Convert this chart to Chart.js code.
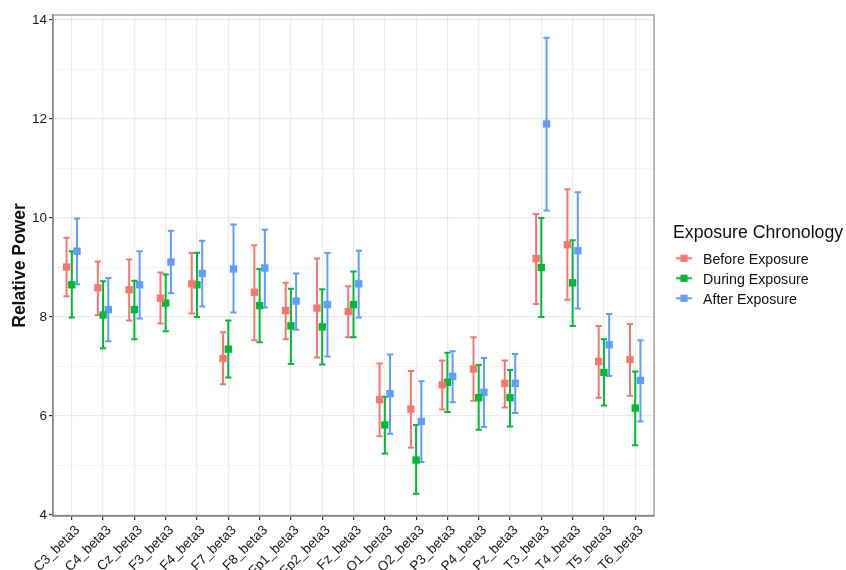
<!DOCTYPE html>
<html>
<head>
<meta charset="utf-8">
<script src="https://cdn.jsdelivr.net/npm/chart.js@4/dist/chart.umd.min.js"></script>
<style>
  html, body { margin: 0; padding: 0; background: #fff; }
  #wrap { width: 846px; height: 570px; }
</style>
</head>
<body>
<div id="wrap"><canvas id="chart" width="846" height="570"></canvas></div>
<script>
// ---- data ----
const categories = ['C3_beta3','C4_beta3','Cz_beta3','F3_beta3','F4_beta3','F7_beta3','F8_beta3','Fp1_beta3','Fp2_beta3','Fz_beta3',
  'O1_beta3','O2_beta3','P3_beta3','P4_beta3','Pz_beta3','T3_beta3','T4_beta3','T5_beta3','T6_beta3'];
const seriesNames = ['Before Exposure','During Exposure','After Exposure'];
const seriesColors = ['#F8766D','#00BA38','#619CFF'];

const beforeMean = [9.01,8.59,8.55,8.38,8.67,7.16,8.50,8.13,8.18,8.11,6.33,6.14,6.63,6.95,6.66,9.18,9.46,7.10,7.14];
const beforeLow  = [8.42,8.04,7.93,7.87,8.07,6.64,7.53,7.55,7.18,7.59,5.59,5.36,6.13,6.31,6.17,8.26,8.35,6.37,6.41];
const beforeHigh = [9.60,9.12,9.16,8.90,9.29,7.69,9.45,8.69,9.18,8.62,7.06,6.91,7.12,7.59,7.12,10.08,10.58,7.82,7.86];

const duringMean = [8.65,8.04,8.15,8.28,8.65,7.35,8.23,7.82,7.80,8.25,5.82,5.11,6.68,6.37,6.37,9.00,8.69,6.88,6.16];
const duringLow  = [7.99,7.37,7.55,7.71,8.00,6.78,7.49,7.05,7.04,7.59,5.24,4.43,6.08,5.72,5.79,8.00,7.82,6.21,5.41];
const duringHigh = [9.33,8.72,8.73,8.86,9.30,7.93,8.97,8.57,8.56,8.92,6.39,5.82,7.28,7.03,6.93,10.00,9.55,7.55,6.90];

const afterMean = [9.33,8.15,8.65,9.11,8.88,8.97,8.99,8.32,8.25,8.67,6.45,5.89,6.80,6.48,6.66,11.90,9.34,7.44,6.72];
const afterLow  = [8.66,7.51,7.97,8.48,8.21,8.09,8.19,7.74,7.20,7.99,5.64,5.07,6.28,5.78,6.06,10.15,8.17,6.81,5.89];
const afterHigh = [9.99,8.79,9.33,9.74,9.54,9.87,9.76,8.88,9.29,9.34,7.24,6.70,7.31,7.17,7.25,13.64,10.52,8.06,7.53];

const yTickLabels = [4,6,8,10,12,14];
const yMinorTicks = [5,7,9,11,13];

const means = [beforeMean, duringMean, afterMean];
const lows  = [beforeLow, duringLow, afterLow];
const highs = [beforeHigh, duringHigh, afterHigh];
const dodge = [-1/6, 0, 1/6];
const FONT = '"Liberation Sans", Arial, sans-serif';

const datasets = seriesNames.map((name, s) => ({
  label: name,
  data: categories.map((c, i) => ({ x: i + dodge[s], y: means[s][i], lo: lows[s][i], hi: highs[s][i] })),
  backgroundColor: seriesColors[s],
  borderColor: seriesColors[s],
  pointStyle: 'rect',
  pointRadius: 5.2,
  pointBorderWidth: 0,
  showLine: false
}));

// error bars under the squares
const errorBars = {
  id: 'errorBars',
  beforeDatasetsDraw(chart) {
    const { ctx, scales: { x, y } } = chart;
    chart.data.datasets.forEach(ds => {
      ctx.save();
      ctx.strokeStyle = ds.borderColor;
      ctx.lineWidth = 2;
      ds.data.forEach(p => {
        const px = x.getPixelForValue(p.x);
        const hw = x.getPixelForValue(p.x + 0.1) - px;
        const top = y.getPixelForValue(p.hi);
        const bot = y.getPixelForValue(p.lo);
        ctx.beginPath();
        ctx.moveTo(px, top); ctx.lineTo(px, bot);
        ctx.moveTo(px - hw, top); ctx.lineTo(px + hw, top);
        ctx.moveTo(px - hw, bot); ctx.lineTo(px + hw, bot);
        ctx.stroke();
      });
      ctx.restore();
    });
  }
};

// rotated category labels (ggplot hjust = 1 style), panel border, legend
const decorations = {
  id: 'decorations',
  afterDraw(chart) {
    const { ctx, chartArea: a, scales: { x } } = chart;
    ctx.save();
    ctx.strokeStyle = '#8c8c8c';
    ctx.lineWidth = 1.2;
    ctx.strokeRect(a.left, a.top, a.right - a.left, a.bottom - a.top);

    ctx.fillStyle = '#1a1a1a';
    ctx.font = '13.5px ' + FONT;
    ctx.textAlign = 'right';
    ctx.textBaseline = 'middle';
    categories.forEach((c, i) => {
      ctx.save();
      ctx.translate(x.getPixelForValue(i) + 6, a.bottom + 12);
      ctx.rotate(-Math.PI / 4);
      ctx.fillText(c, 0, 0);
      ctx.restore();
    });

    ctx.fillStyle = '#111';
    ctx.textBaseline = 'alphabetic';
    ctx.textAlign = 'left';
    ctx.font = '17.7px ' + FONT;
    ctx.fillText('Exposure Chronology', 673, 238);
    ctx.font = '14.2px ' + FONT;
    seriesNames.forEach((name, s) => {
      const ky = 258.3 + s * 20;
      ctx.strokeStyle = seriesColors[s];
      ctx.lineWidth = 2;
      ctx.beginPath(); ctx.moveTo(676, ky); ctx.lineTo(692, ky); ctx.stroke();
      ctx.fillStyle = seriesColors[s];
      ctx.fillRect(684 - 3.6, ky - 3.6, 7.2, 7.2);
      ctx.fillStyle = '#111';
      ctx.fillText(name, 703, ky + 6);
    });
    ctx.restore();
  }
};

new Chart(document.getElementById('chart'), {
  type: 'scatter',
  data: { datasets },
  plugins: [errorBars, decorations],
  options: {
    responsive: false,
    animation: false,
    layout: { padding: { left: 0, right: 192, top: 15, bottom: 0 } },
    plugins: { legend: { display: false }, tooltip: { enabled: false } },
    scales: {
      x: {
        type: 'linear',
        min: -0.6,
        max: categories.length - 0.4,
        afterBuildTicks: s => { s.ticks = categories.map((c, i) => ({ value: i })); },
        afterFit: s => { s.height = 54; },
        ticks: { display: false },
        grid: { color: '#ebebeb', lineWidth: 1.2, tickLength: 4, tickColor: '#333' },
        border: { color: '#7a7a7a', width: 1.5 }
      },
      y: {
        min: 3.98,
        max: 14.1,
        afterBuildTicks: s => {
          s.ticks = yTickLabels.concat(yMinorTicks).sort((a, b) => a - b).map(v => ({ value: v }));
        },
        afterFit: s => { s.width = 53; },
        ticks: {
          padding: 2,
          color: '#1a1a1a',
          font: { family: FONT, size: 13.5 },
          callback: v => (yTickLabels.includes(v) ? v : '')
        },
        grid: {
          color: c => (yTickLabels.includes(c.tick && c.tick.value) ? '#ebebeb' : '#f4f4f4'),
          lineWidth: c => (yTickLabels.includes(c.tick && c.tick.value) ? 1.2 : 1),
          tickLength: 4,
          tickColor: c => (yTickLabels.includes(c.tick && c.tick.value) ? '#333' : 'rgba(0,0,0,0)')
        },
        border: { color: '#7a7a7a', width: 1.5 },
        title: {
          display: true,
          text: 'Relative Power',
          color: '#111',
          padding: { top: 10, bottom: 0 },
          font: { family: FONT, size: 17.5, weight: 'bold' }
        }
      }
    }
  }
});
</script>
</body>
</html>
